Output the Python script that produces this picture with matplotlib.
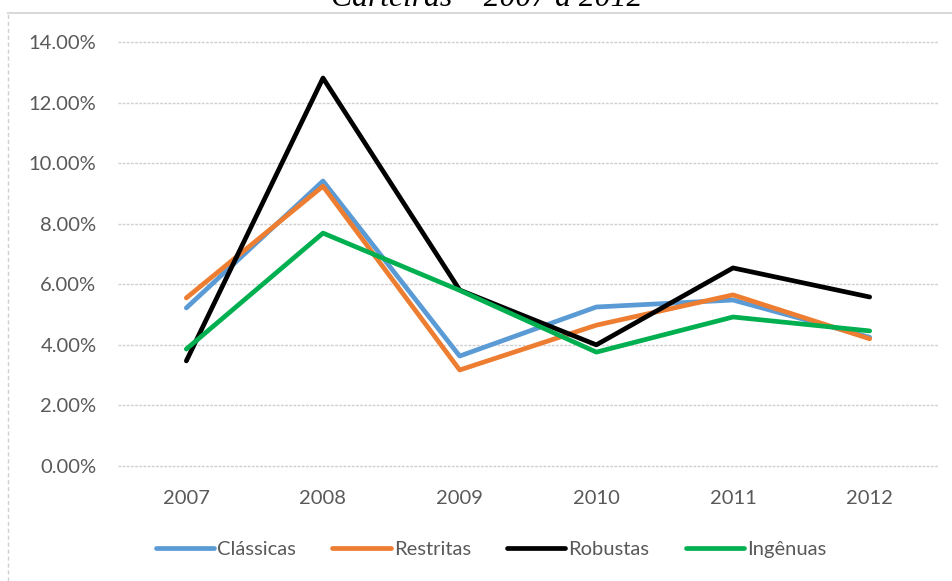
import matplotlib
matplotlib.use("Agg")
import matplotlib.pyplot as plt
from matplotlib.lines import Line2D
from matplotlib.ticker import FuncFormatter

years = ["2007", "2008", "2009", "2010", "2011", "2012"]
classicas = [5.22, 9.41, 3.63, 5.25, 5.48, 4.25]
restritas = [5.55, 9.24, 3.17, 4.65, 5.65, 4.20]
robustas = [3.47, 12.81, 5.81, 4.00, 6.54, 5.58]
ingenuas = [3.86, 7.69, 5.80, 3.76, 4.92, 4.46]

series_names = ["Clássicas", "Restritas", "Robustas", "Ingênuas"]
series_values = [classicas, restritas, robustas, ingenuas]
colors = ["#5B9BD5", "#ED7D31", "#000000", "#00B050"]

W, H = 952, 581
fig = plt.figure(figsize=(W / 100, H / 100), dpi=100)
fig.patch.set_facecolor("white")

font = "Lato"
txt_color = "#595959"

ax = fig.add_axes([118 / W, 1 - 466 / H, (938 - 118) / W, (466 - 42) / H])
x = list(range(len(years)))
for name, vals, c in zip(series_names, series_values, colors):
    ax.plot(x, [v / 100 for v in vals], color=c, lw=3.4, label=name,
            solid_joinstyle="round", solid_capstyle="round")

ax.set_xlim(-0.5, len(years) - 0.5)
ax.set_ylim(0, 0.14)
ax.set_yticks([i / 100 for i in range(0, 15, 2)])
ax.yaxis.set_major_formatter(FuncFormatter(lambda v, p: f"{v * 100:.2f}%"))
ax.set_xticks(x)
ax.set_xticklabels(years)
ax.grid(axis="y", color="#cfcfcf", lw=1.0, linestyle=(0, (2, 1)))
for gl in ax.get_ygridlines():
    gl.set_clip_on(False)
ax.set_axisbelow(True)
for s in ["top", "right", "left", "bottom"]:
    ax.spines[s].set_visible(False)
ax.tick_params(length=0, labelsize=14.5, labelcolor=txt_color)
ax.tick_params(axis="y", pad=15.5)
ax.tick_params(axis="x", pad=17)
for lab in ax.get_xticklabels() + ax.get_yticklabels():
    lab.set_fontfamily(font)

leg = fig.legend(loc="center", bbox_to_anchor=(491 / W, 1 - 549 / H), ncol=4,
                 frameon=False, handlelength=2.9, handletextpad=0.15,
                 columnspacing=1.8, prop={"family": font, "size": 14.5})
for t in leg.get_texts():
    t.set_color(txt_color)
for l in leg.get_lines():
    l.set_linewidth(3.4)

# chart border (partial)
fig.add_artist(Line2D([8 / W, 1], [1 - 12.5 / H, 1 - 12.5 / H], color="#d9d9d9", lw=1.5,
                      transform=fig.transFigure))
fig.add_artist(Line2D([8 / W, 8 / W], [0, 1 - 12.5 / H], color="#d0d0d0", lw=1.0,
                      linestyle=(0, (3, 2)), transform=fig.transFigure))

# title above the chart, clipped at the top edge as in the reference
fig.text(487 / W, 1 - 6 / H, "Carteiras – 2007 a 2012", ha="center", va="baseline",
         fontsize=22.8, fontstyle="italic", family="Liberation Serif", color="#000000")

fig.savefig("out.png", dpi=100, facecolor="white")
